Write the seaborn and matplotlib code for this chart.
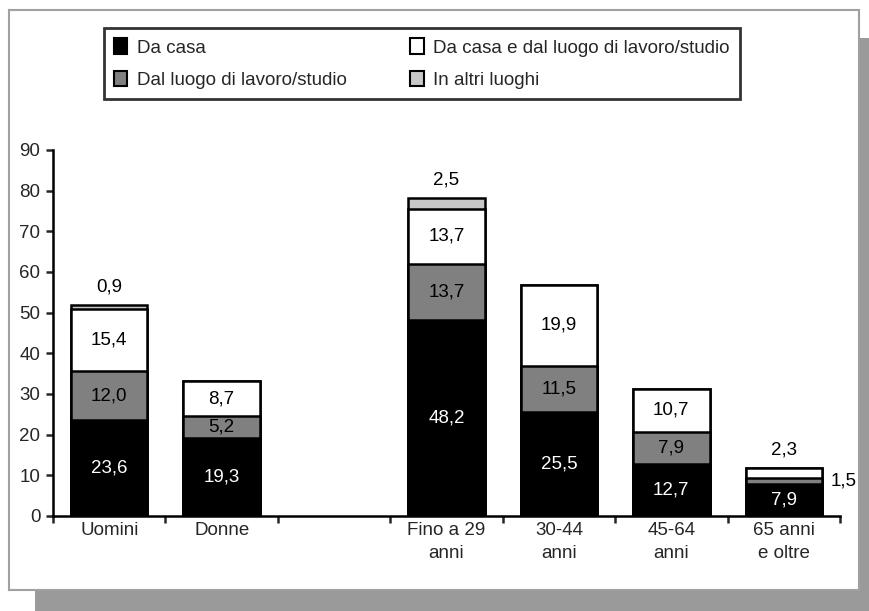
import numpy as np
import pandas as pd
import matplotlib.pyplot as plt
import seaborn as sns
from matplotlib.patches import Rectangle, Patch

# Values
categories = ["Uomini", "Donne", "", "Fino a 29\nanni", "30-44\nanni", "45-64\nanni", "65 anni\ne oltre"]
da_casa = [23.6, 19.3, np.nan, 48.2, 25.5, 12.7, 7.9]
dal_luogo = [12.0, 5.2, np.nan, 13.7, 11.5, 7.9, 1.5]
casa_e_luogo = [15.4, 8.7, np.nan, 13.7, 19.9, 10.7, 2.3]
altri_luoghi = [0.9, 0.0, np.nan, 2.5, 0.0, 0.0, 0.0]

series_names = ["Da casa", "Dal luogo di lavoro/studio",
                "Da casa e dal luogo di lavoro/studio", "In altri luoghi"]
series_colors = ["#000000", "#808080", "#ffffff", "#c8c8c8"]
yticks = [0, 10, 20, 30, 40, 50, 60, 70, 80, 90]

FS = 13.5

sns.set_style("ticks")
plt.rcParams['font.family'] = ['Liberation Sans', 'DejaVu Sans']

df = pd.DataFrame({"cat": categories, "s0": da_casa, "s1": dal_luogo,
                   "s2": casa_e_luogo, "s3": altri_luoghi})
df = df[df["cat"] != ""].reset_index(drop=True)
layers = ["s0", "s1", "s2", "s3"]
cum = df[layers].cumsum(axis=1)

fig = plt.figure(figsize=(8.70, 6.11), dpi=100)
fig.patch.set_facecolor("white")

# drop shadow + frame
fig.patches.append(Rectangle((35 / 870, 0), 1 - 35 / 870, (611 - 38) / 611,
                             transform=fig.transFigure, facecolor="#9a9a9a",
                             edgecolor="none", zorder=-2))
fig.patches.append(Rectangle((9 / 870, 21 / 611), 850 / 870, 580 / 611,
                             transform=fig.transFigure, facecolor="white",
                             edgecolor="#a0a0a0", linewidth=1.5, zorder=-1))

ax = fig.add_axes([53 / 870, (611 - 516) / 611, (840 - 53) / 870, (516 - 150) / 611])
ax.set_facecolor("none")

# draw cumulative bars from the top layer down so lower layers overlap
for i in reversed(range(4)):
    sns.barplot(x=df["cat"], y=cum[layers[i]], order=categories, ax=ax,
                color=series_colors[i], saturation=1, width=0.68,
                edgecolor="black", linewidth=1.8, errorbar=None)

# value labels
pos = {c: k for k, c in enumerate(categories)}
for _, row in df.iterrows():
    x = pos[row["cat"]]
    base = 0.0
    top_layer = max(i for i in range(4) if row[layers[i]] > 0)
    for i in range(4):
        v = row[layers[i]]
        if v <= 0:
            continue
        txt = f"{v:.1f}".replace(".", ",")
        col = "white" if i == 0 else "black"
        if v >= 4:
            ax.text(x, base + v / 2, txt, ha="center", va="center", color=col, fontsize=FS)
        elif i == top_layer:
            ax.text(x, base + v + 4.5, txt, ha="center", va="center", color="black", fontsize=FS)
        else:
            ax.text(x + 0.53, base + v / 2, txt, ha="center", va="center", color="black", fontsize=FS)
        base += v

ax.set_xlim(-0.5, len(categories) - 0.5)
ax.set_ylim(0, 90)
ax.set_yticks(yticks)
ax.set_xticks(np.arange(-0.5, len(categories)), [""] * (len(categories) + 1))
ax.set_xticks(np.arange(len(categories)), categories, minor=True)
for lab in ax.get_xticklabels(minor=True):
    lab.set_linespacing(1.5)
ax.tick_params(axis="x", which="minor", length=0, labelsize=FS, pad=4)
ax.tick_params(axis="x", which="major", length=5, width=1.8, direction="out")
ax.tick_params(axis="y", length=5, width=1.8, labelsize=FS, pad=4)
ax.set_xlabel("")
ax.set_ylabel("")
sns.despine(ax=ax)
for s in ["left", "bottom"]:
    ax.spines[s].set_linewidth(1.8)
    ax.spines[s].set_color("black")

handles = [Patch(facecolor=series_colors[i], edgecolor="black", linewidth=1.5) for i in range(4)]
leg = fig.legend(handles, series_names, ncol=2, loc="upper left",
                 bbox_to_anchor=(104 / 870, 1 - 28 / 611), borderaxespad=0, fontsize=FS,
                 frameon=True, fancybox=False, handlelength=0.7, handleheight=0.9,
                 handletextpad=0.5, columnspacing=3.4, borderpad=0.55, labelspacing=0.75)
leg.get_frame().set_edgecolor("black")
leg.get_frame().set_linewidth(2)

fig.savefig("out.png", dpi=100)
